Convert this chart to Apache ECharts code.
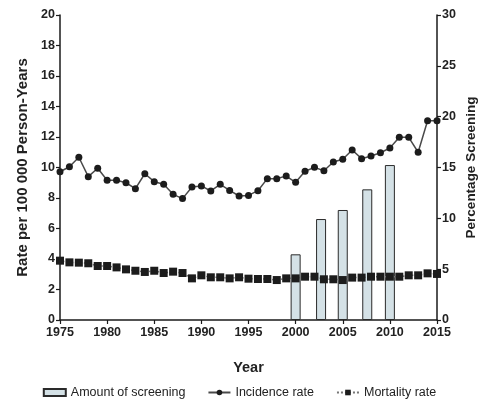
<!DOCTYPE html>
<html>
<head>
<meta charset="utf-8">
<script src="https://cdn.jsdelivr.net/npm/echarts@6/dist/echarts.min.js"></script>
<style>
  html, body { margin: 0; padding: 0; background: #fff; }
  #chart { width: 479px; height: 407px; }
</style>
</head>
<body>
<div id="chart"></div>
<script>
// Annual rates per 100 000 person-years, 1975–2015
const years = [];
for (let y = 1975; y <= 2015; y++) years.push(y);

const incidenceRate = [
  9.72, 10.05, 10.67, 9.40, 9.95, 9.16, 9.16, 9.00, 8.61, 9.59,
  9.07, 8.90, 8.24, 7.96, 8.72, 8.79, 8.46, 8.90, 8.50, 8.13,
  8.17, 8.48, 9.27, 9.27, 9.44, 9.03, 9.75, 10.01, 9.79, 10.36,
  10.54, 11.15, 10.58, 10.75, 10.97, 11.28, 11.98, 11.98, 11.00, 13.07,
  13.07
];

const mortalityRate = [
  3.89, 3.78, 3.76, 3.72, 3.54, 3.54, 3.45, 3.32, 3.23, 3.15,
  3.23, 3.08, 3.17, 3.08, 2.73, 2.93, 2.80, 2.80, 2.73, 2.80,
  2.71, 2.69, 2.69, 2.62, 2.73, 2.73, 2.84, 2.84, 2.67, 2.67,
  2.62, 2.78, 2.78, 2.84, 2.84, 2.84, 2.84, 2.93, 2.93, 3.06,
  3.02
];

// Screening survey points (percentage of population)
const screeningYears = [2000, 2002.7, 2005, 2007.6, 2010];
const screeningPct = [6.46, 9.93, 10.82, 12.85, 15.24];

const FONT = '"Liberation Sans", Arial, sans-serif';
const INK = '#1a1a1a';

const pairs = (xs, ys) => xs.map((x, i) => [x, ys[i]]);

const chart = echarts.init(document.getElementById('chart'), null, { renderer: 'canvas' });

const axisLine = { show: true, lineStyle: { color: INK, width: 1.5 } };
const axisTick = { show: true, inside: false, length: 4, lineStyle: { color: INK, width: 1.2 } };
const axisLabel = { color: '#222', fontFamily: FONT, fontWeight: 'bold', fontSize: 12.5 };

chart.setOption({
  animation: false,
  backgroundColor: '#fff',
  textStyle: { fontFamily: FONT },
  grid: { left: 60, right: 42, top: 15, bottom: 87, containLabel: false, outerBoundsMode: 'none' },
  legend: {
    bottom: 3,
    left: 'center',
    itemWidth: 22,
    itemHeight: 7,
    itemGap: 22,
    textStyle: { color: '#222', fontFamily: FONT, fontSize: 12.5, fontWeight: 500 },
    data: [
      { name: 'Amount of screening', icon: 'rect' },
      { name: 'Incidence rate' },
      { name: 'Mortality rate' }
    ]
  },
  xAxis: {
    type: 'value',
    min: 1975,
    max: 2015,
    interval: 5,
    name: 'Year',
    nameLocation: 'middle',
    nameGap: 40,
    nameMoveOverlap: false,
    nameTextStyle: { color: '#222', fontFamily: FONT, fontWeight: 'bold', fontSize: 14.5 },
    axisLine: axisLine,
    axisTick: axisTick,
    axisLabel: Object.assign({ margin: 6, formatter: v => String(v) }, axisLabel),
    splitLine: { show: false }
  },
  yAxis: [
    {
      type: 'value',
      min: 0,
      max: 20,
      interval: 2,
      position: 'left',
      name: 'Rate per 100 000 Person-Years',
      nameLocation: 'middle',
      nameGap: 30,
      nameMoveOverlap: false,
      nameTextStyle: { color: '#222', fontFamily: FONT, fontWeight: 'bold', fontSize: 15 },
      axisLine: axisLine,
      axisTick: axisTick,
      axisLabel: Object.assign({ margin: 5 }, axisLabel),
      splitLine: { show: false }
    },
    {
      type: 'value',
      min: 0,
      max: 30,
      interval: 5,
      position: 'right',
      name: 'Percentage Screening',
      nameLocation: 'middle',
      nameGap: 27,
      nameRotate: 90,
      nameMoveOverlap: false,
      nameTextStyle: { color: '#222', fontFamily: FONT, fontWeight: 'bold', fontSize: 13.5 },
      axisLine: axisLine,
      axisTick: axisTick,
      axisLabel: Object.assign({ margin: 5 }, axisLabel),
      splitLine: { show: false }
    }
  ],
  series: [
    {
      name: 'Amount of screening',
      type: 'bar',
      yAxisIndex: 1,
      barWidth: 10,
      data: pairs(screeningYears, screeningPct),
      itemStyle: { color: '#d4e1e6', borderColor: '#2a2a2a', borderWidth: 1 },
      z: 1
    },
    {
      name: 'Incidence rate',
      type: 'line',
      yAxisIndex: 0,
      data: pairs(years, incidenceRate),
      symbol: 'circle',
      symbolSize: 7,
      itemStyle: { color: '#1c1c1c' },
      lineStyle: { color: '#4a4a4a', width: 1.5 },
      z: 3
    },
    {
      name: 'Mortality rate',
      type: 'line',
      yAxisIndex: 0,
      data: pairs(years, mortalityRate),
      symbol: 'rect',
      symbolSize: 8,
      itemStyle: { color: '#1c1c1c' },
      lineStyle: { color: '#777', width: 1.5, type: 'dotted' },
      z: 3
    }
  ]
});
</script>
</body>
</html>
